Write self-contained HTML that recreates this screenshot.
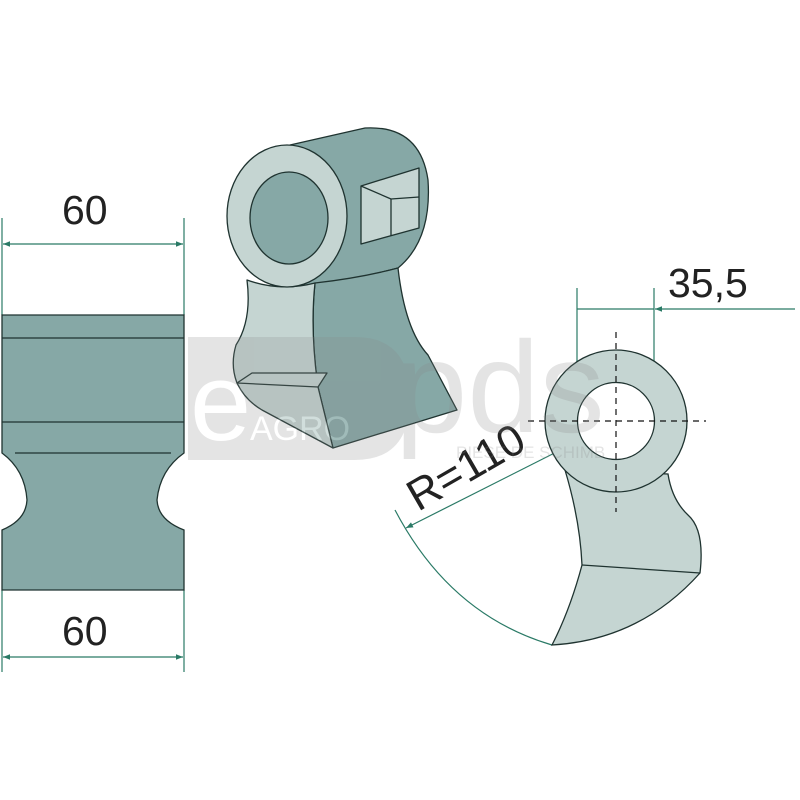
<!DOCTYPE html>
<html><head><meta charset="utf-8"><style>
html,body{margin:0;padding:0;background:#fff;width:800px;height:800px;overflow:hidden}
svg{display:block}
text{font-family:"Liberation Sans",sans-serif;fill:#222}
</style></head><body>
<svg width="800" height="800" viewBox="0 0 800 800" xmlns="http://www.w3.org/2000/svg">
<defs>
<marker id="a" viewBox="0 0 10 10" refX="10" refY="5" markerWidth="9" markerHeight="7" orient="auto-start-reverse" markerUnits="userSpaceOnUse"><path d="M0,1 L10,5 L0,9 Z" fill="#2a7a66"/></marker>
</defs>
<g stroke="#2a7a66" stroke-width="1.2" fill="none">
<line x1="2" y1="218" x2="2" y2="315"/><line x1="184" y1="218" x2="184" y2="315"/>
<line x1="3" y1="244" x2="183" y2="244" marker-start="url(#a)" marker-end="url(#a)"/>
<line x1="2" y1="590" x2="2" y2="672"/><line x1="184" y1="590" x2="184" y2="672"/>
<line x1="3" y1="657" x2="183" y2="657" marker-start="url(#a)" marker-end="url(#a)"/>
<line x1="577" y1="288" x2="577" y2="420"/><line x1="654" y1="288" x2="654" y2="420"/>
<line x1="577" y1="309" x2="654" y2="309"/>
<line x1="795" y1="309" x2="655" y2="309" marker-end="url(#a)"/>
<line x1="612" y1="424" x2="406" y2="528" marker-end="url(#a)"/>
<path d="M395,510 Q450,615 552,645"/>
</g>
<text x="62" y="224" font-size="41">60</text>
<text x="62" y="645" font-size="41">60</text>
<text x="668" y="297" font-size="41">35,5</text>
<text x="0" y="0" font-size="44" transform="translate(418,512) rotate(-30)">R=110</text>
<!-- left block -->
<path d="M2,315 H184 V453 Q160,470 157,500 Q158,520 184,530 V590 H2 V530 Q26,520 27,500 Q25,470 2,453 Z" fill="#86a8a6" stroke="#1f3330" stroke-width="1.3"/>
<g stroke="#1f3330" stroke-width="1.3"><line x1="2" y1="338" x2="184" y2="338"/><line x1="2" y1="422" x2="184" y2="422"/><line x1="15" y1="453" x2="171" y2="453"/></g>
<!-- middle part -->
<g stroke="#1f3330" stroke-width="1.3" stroke-linejoin="round">
<path d="M290,145 L365,128 Q420,125 428,180 Q432,240 398,268 Q360,278 330,283 Q300,288 287,287 Z" fill="#86a8a6"/>
<path d="M315,283 Q310,330 318,387 L333,448 L457,410 L428,355 Q405,330 398,268 Q360,278 315,283 Z" fill="#86a8a6"/>
<path d="M247,280 Q252,320 236,345 Q230,365 237,383 Q245,400 262,410 L333,448 L318,387 Q310,330 315,283 Q280,292 247,280 Z" fill="#c5d5d2"/>
<path d="M237,383 L252,373 L327,373 L318,387 Z" fill="#c5d5d2"/>
<ellipse cx="287" cy="216" rx="60" ry="71" fill="#c5d5d2"/>
<ellipse cx="289" cy="218" rx="39" ry="46" fill="#86a8a6"/>
<path d="M361,186 L419,168 L419,228 L361,244 Z" fill="#c5d5d2"/>
<path d="M361,186 L391,199 L419,197 M391,199 L391,236" fill="none"/>
</g>
<!-- right part -->
<g stroke="#1f3330" stroke-width="1.3">
<path d="M565,470 Q580,520 582,565 Q570,610 552,645 Q640,640 700,573 Q705,530 688,515 Q672,500 668,474 Z" fill="#c5d5d2"/>
<line x1="582" y1="565" x2="700" y2="573"/>
<circle cx="616" cy="421" r="71" fill="#c5d5d2"/>
<circle cx="616" cy="421" r="38.5" fill="#fff"/>
</g>
<g stroke="#111" stroke-width="1.2" stroke-dasharray="6,5"><line x1="528" y1="421" x2="706" y2="421"/><line x1="616" y1="332" x2="616" y2="512"/></g>
<!-- watermark -->
<g opacity="0.22">
<path d="M188,337 H355 Q410,337 410,398 Q410,460 355,460 H188 Z" fill="#888"/>
<text x="190" y="440" font-size="110" style="fill:#fff">e</text>
<text x="250" y="440" font-size="34" style="fill:#fff">AGRO</text>
<text x="395" y="432" font-size="130" style="fill:#888">pds</text>
<text x="456" y="458" font-size="17" style="fill:#888">PIESE DE SCHIMB</text>
</g>
</svg>
</body></html>
